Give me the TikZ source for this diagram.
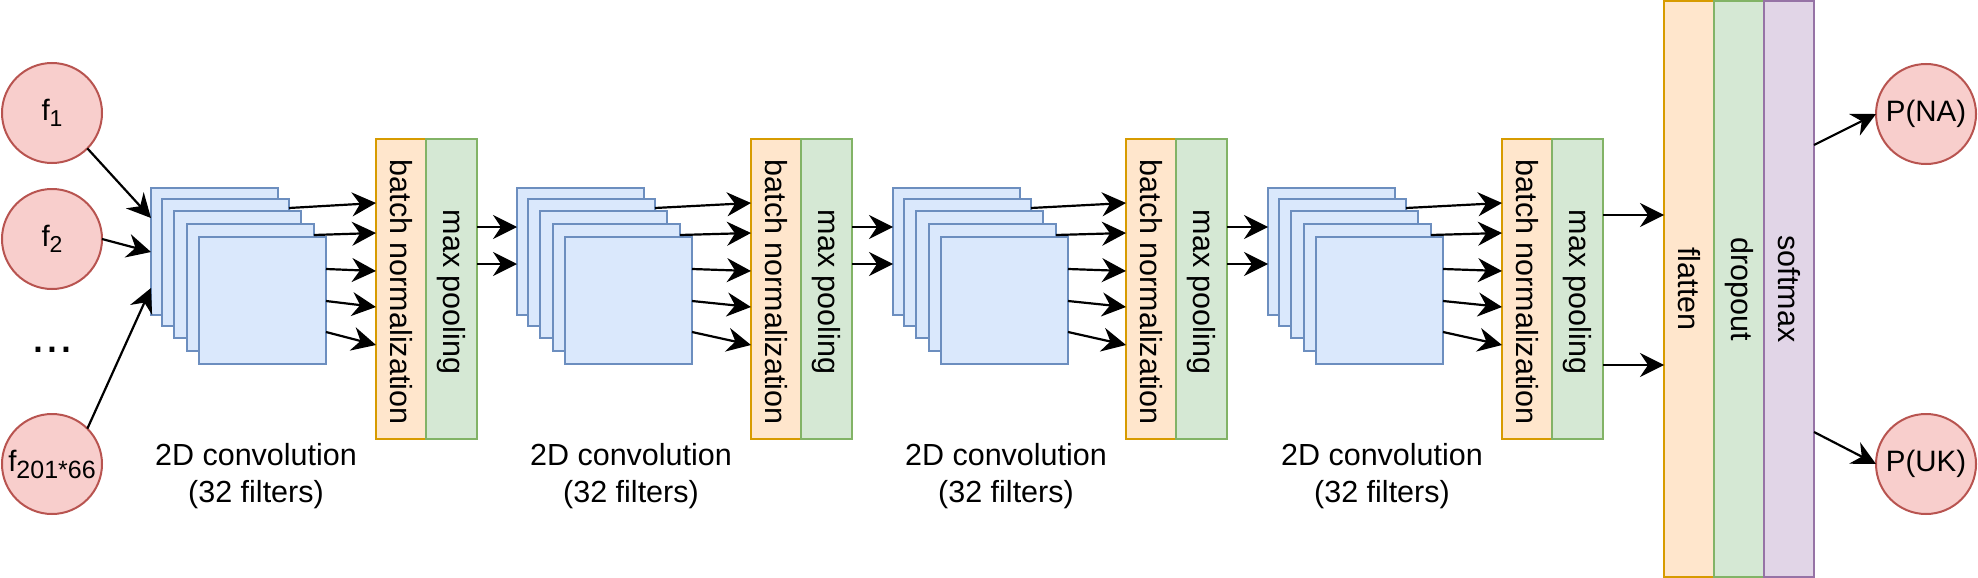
\documentclass[tikz,border=0pt]{standalone}
\usepackage{fontspec}
\setmainfont{Liberation Sans}
\usetikzlibrary{arrows.meta}
\definecolor{redfill}{HTML}{F8CECC}
\definecolor{redline}{HTML}{B85450}
\definecolor{bluefill}{HTML}{DAE8FC}
\definecolor{blueline}{HTML}{6C8EBF}
\definecolor{orfill}{HTML}{FFE6CC}
\definecolor{orline}{HTML}{D79B00}
\definecolor{grfill}{HTML}{D5E8D4}
\definecolor{grline}{HTML}{82B366}
\definecolor{pufill}{HTML}{E1D5E7}
\definecolor{puline}{HTML}{9673A6}
\newcommand{\mysub}[1]{\raisebox{-6pt}{\fontsize{23}{23}\selectfont #1}}
\begin{document}
\begin{tikzpicture}[x=1pt,y=-1pt,
  every node/.style={font=\fontsize{30.5}{36}\selectfont, inner sep=0pt, outer sep=0pt},
  feat/.style={circle, draw=redline, fill=redfill, line width=2pt, minimum size=100pt, font=\fontsize{29.5}{35}\selectfont},
  fmap/.style={rectangle, draw=blueline, fill=bluefill, line width=2pt, minimum width=127pt, minimum height=127pt, anchor=north west},
  bnbox/.style={rectangle, draw=orline, fill=orfill, line width=2pt, minimum width=50pt, minimum height=300pt, anchor=north west},
  mpbox/.style={rectangle, draw=grline, fill=grfill, line width=2pt, minimum width=51pt, minimum height=300pt, anchor=north west},
  smbox/.style={rectangle, draw=puline, fill=pufill, line width=2pt, minimum width=50pt, minimum height=576pt, anchor=north west},
  vtext/.style={rotate=-90},
  arr/.style={-{Stealth[length=24pt,width=24pt,inset=8pt]}, line width=2.2pt, black},
  caption/.style={align=center, font=\fontsize{30.5}{37}\selectfont}
]
\useasboundingbox (0,0) rectangle (1978,578);

% inputs
\node[feat] (f1) at (52,113) {f\mysub{1}};
\node[feat] (f2) at (52,239) {f\mysub{2}};
\node[font=\fontsize{50}{50}\selectfont] (dots) at (52.5,350) {...};
\node[feat] (f3) at (52,464) {f\raisebox{-7pt}{\fontsize{25}{25}\selectfont 201*66}};

% conv stacks
\foreach \i/\sx/\bx in {1/151/376, 2/517/751, 3/893/1126, 4/1268/1502} {
  \foreach \k/\dx/\dy in {1/0/0, 2/11/11, 3/23/23, 4/36/36, 5/48/49}
    \node[fmap] (s\i-\k) at (\sx+\dx, 188+\dy) {};
  \node[bnbox] (bn\i) at (\bx,139) {};
  \node[mpbox] (mp\i) at (\bx+50,139) {};
  \node[vtext] (bnt\i) at ([yshift=-3pt]bn\i.center) {batch normalization};
  \node[vtext] (mpt\i) at ([yshift=-3pt]mp\i.center) {max pooling};
  \node[caption] (cap\i) at (\bx-120,476) {2D convolution\\(32 filters)};
  \draw[arr] ([yshift=-9pt]s\i-2.north east) -- ([yshift=-64pt]bn\i.north west);
  \draw[arr] ([yshift=-11pt]s\i-4.north east) -- ([yshift=-94pt]bn\i.north west);
  \draw[arr] ([yshift=-32pt]s\i-5.north east) -- ([yshift=-132pt]bn\i.north west);
  \draw[arr] ([yshift=-64pt]s\i-5.north east) -- ([yshift=-168pt]bn\i.north west);
  \draw[arr] ([yshift=-95pt]s\i-5.north east) -- ([yshift=-206pt]bn\i.north west);
}
\foreach \i/\j in {1/2, 2/3, 3/4} {
  \draw[arr] ([yshift=-88pt]mp\i.north east) -- ([yshift=-39pt]s\j-1.north west);
  \draw[arr] ([yshift=-125pt]mp\i.north east) -- ([yshift=-76pt]s\j-1.north west);
}

% input arrows
\draw[arr] (f1.-45) -- ([yshift=-30pt]s1-1.north west);
\draw[arr] (f2.east) -- ([yshift=-64pt]s1-1.north west);
\draw[arr] (f3.45) -- ([yshift=-100pt]s1-1.north west);

% dense part
\node[bnbox, minimum height=576pt] (flat) at (1664,1) {};
\node[mpbox, minimum width=50pt, minimum height=576pt] (drop) at (1714,1) {};
\node[smbox] (soft) at (1764,1) {};
\node[vtext] (flatt) at (flat.center) {flatten};
\node[vtext] (dropt) at (drop.center) {dropout};
\node[vtext] (softt) at (soft.center) {softmax};
\draw[arr] ([yshift=-76pt]mp4.north east) -- ([yshift=-214pt]flat.north west);
\draw[arr] ([yshift=-226pt]mp4.north east) -- ([yshift=-364pt]flat.north west);

% outputs
\node[feat] (pna) at (1926,114) {P(NA)};
\node[feat] (puk) at (1926,464) {P(UK)};
\draw[arr] ([yshift=-144pt]soft.north east) -- (pna.west);
\draw[arr] ([yshift=-431pt]soft.north east) -- (puk.west);
\end{tikzpicture}
\end{document}
